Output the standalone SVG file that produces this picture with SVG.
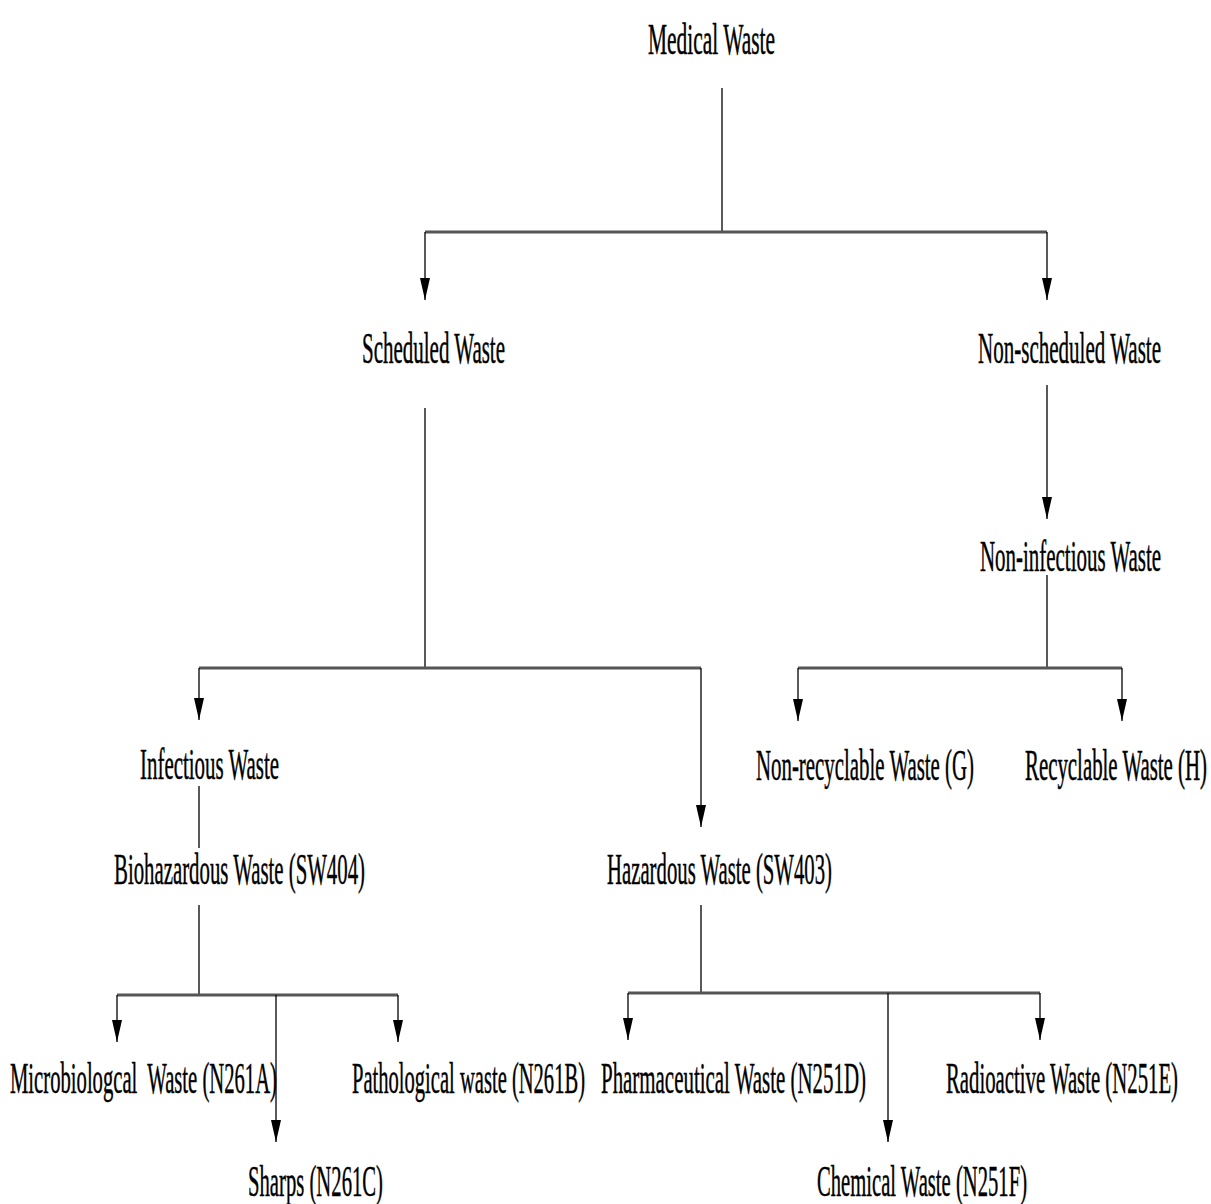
<svg xmlns="http://www.w3.org/2000/svg" width="1211" height="1204" viewBox="0 0 1211 1204">
<style>
text{font-family:"Liberation Serif","Times New Roman",serif;font-size:23px;fill:#000;stroke:#000;stroke-width:0.25}
.ln{stroke:#000;stroke-width:1.3;fill:none}
.bar{stroke:#555;stroke-width:3;fill:none}
.ar{stroke:#000;stroke-width:1.3;fill:none;marker-end:url(#ah)}
</style>
<defs>
<marker id="ah" markerUnits="userSpaceOnUse" viewBox="0 0 22 10" refX="22" refY="5" markerWidth="22" markerHeight="10" orient="auto">
<path d="M0,0 L22,5 L0,10 z" fill="#000"/>
</marker>
</defs>
<rect width="1211" height="1204" fill="#fff"/>
<g id="connectors">
<line class="ln" x1="722" y1="88" x2="722" y2="232"/>
<line class="bar" x1="425" y1="232" x2="1047" y2="232"/>
<line class="ar" x1="425" y1="232" x2="425" y2="300"/>
<line class="ar" x1="1047" y1="232" x2="1047" y2="300"/>
<line class="ln" x1="425" y1="408" x2="425" y2="668"/>
<line class="bar" x1="199" y1="668" x2="701" y2="668"/>
<line class="ar" x1="199" y1="668" x2="199" y2="720"/>
<line class="ar" x1="701" y1="668" x2="701" y2="827"/>
<line class="ar" x1="1047" y1="385" x2="1047" y2="519"/>
<line class="ln" x1="1047" y1="575" x2="1047" y2="668"/>
<line class="bar" x1="798" y1="668" x2="1122" y2="668"/>
<line class="ar" x1="798" y1="668" x2="798" y2="721"/>
<line class="ar" x1="1122" y1="668" x2="1122" y2="721"/>
<line class="ln" x1="199" y1="786" x2="199" y2="848"/>
<line class="ln" x1="199" y1="905" x2="199" y2="995"/>
<line class="bar" x1="117" y1="995" x2="398" y2="995"/>
<line class="ar" x1="117" y1="995" x2="117" y2="1042"/>
<line class="ar" x1="398" y1="995" x2="398" y2="1042"/>
<line class="ar" x1="276" y1="995" x2="276" y2="1142"/>
<line class="ln" x1="701" y1="905" x2="701" y2="993"/>
<line class="bar" x1="628" y1="993" x2="1040" y2="993"/>
<line class="ar" x1="628" y1="993" x2="628" y2="1040"/>
<line class="ar" x1="1040" y1="993" x2="1040" y2="1040"/>
<line class="ar" x1="888" y1="993" x2="888" y2="1142"/>
</g>
<g id="n-medical" transform="translate(648,54) scale(1,1.95)"><text textLength="127" lengthAdjust="spacingAndGlyphs">Medical Waste</text></g>
<g id="n-scheduled" transform="translate(362,363) scale(1,1.95)"><text textLength="143" lengthAdjust="spacingAndGlyphs">Scheduled Waste</text></g>
<g id="n-nonscheduled" transform="translate(978,363) scale(1,1.95)"><text textLength="183" lengthAdjust="spacingAndGlyphs">Non-scheduled Waste</text></g>
<g id="n-noninfectious" transform="translate(980,571) scale(1,1.95)"><text textLength="181" lengthAdjust="spacingAndGlyphs">Non-infectious Waste</text></g>
<g id="n-nonrecyclable" transform="translate(756,780) scale(1,1.95)"><text textLength="218" lengthAdjust="spacingAndGlyphs">Non-recyclable Waste (G)</text></g>
<g id="n-recyclable" transform="translate(1025,780) scale(1,2.1)"><text style="font-size:21.3px;stroke-width:0.27" textLength="182" lengthAdjust="spacingAndGlyphs">Recyclable Waste (H)</text></g>
<g id="n-infectious" transform="translate(140,779) scale(1,1.95)"><text textLength="139" lengthAdjust="spacingAndGlyphs">Infectious Waste</text></g>
<g id="n-biohazardous" transform="translate(114,884) scale(1,1.95)"><text textLength="251" lengthAdjust="spacingAndGlyphs">Biohazardous Waste (SW404)</text></g>
<g id="n-hazardous" transform="translate(607,884) scale(1,1.95)"><text textLength="225" lengthAdjust="spacingAndGlyphs">Hazardous Waste (SW403)</text></g>
<g id="n-microbio" transform="translate(10,1093) scale(1,1.95)"><text textLength="267" lengthAdjust="spacingAndGlyphs" xml:space="preserve">Microbiologcal  Waste (N261A)</text></g>
<g id="n-pathological" transform="translate(352,1093) scale(1,1.95)"><text textLength="233" lengthAdjust="spacingAndGlyphs">Pathological waste (N261B)</text></g>
<g id="n-sharps" transform="translate(248,1196) scale(1,1.95)"><text textLength="135" lengthAdjust="spacingAndGlyphs">Sharps (N261C)</text></g>
<g id="n-pharma" transform="translate(601,1093) scale(1,1.95)"><text textLength="265" lengthAdjust="spacingAndGlyphs">Pharmaceutical Waste (N251D)</text></g>
<g id="n-radioactive" transform="translate(946,1093) scale(1,1.95)"><text textLength="232" lengthAdjust="spacingAndGlyphs">Radioactive Waste (N251E)</text></g>
<g id="n-chemical" transform="translate(817,1196) scale(1,1.95)"><text textLength="210" lengthAdjust="spacingAndGlyphs">Chemical Waste (N251F)</text></g>
</svg>
